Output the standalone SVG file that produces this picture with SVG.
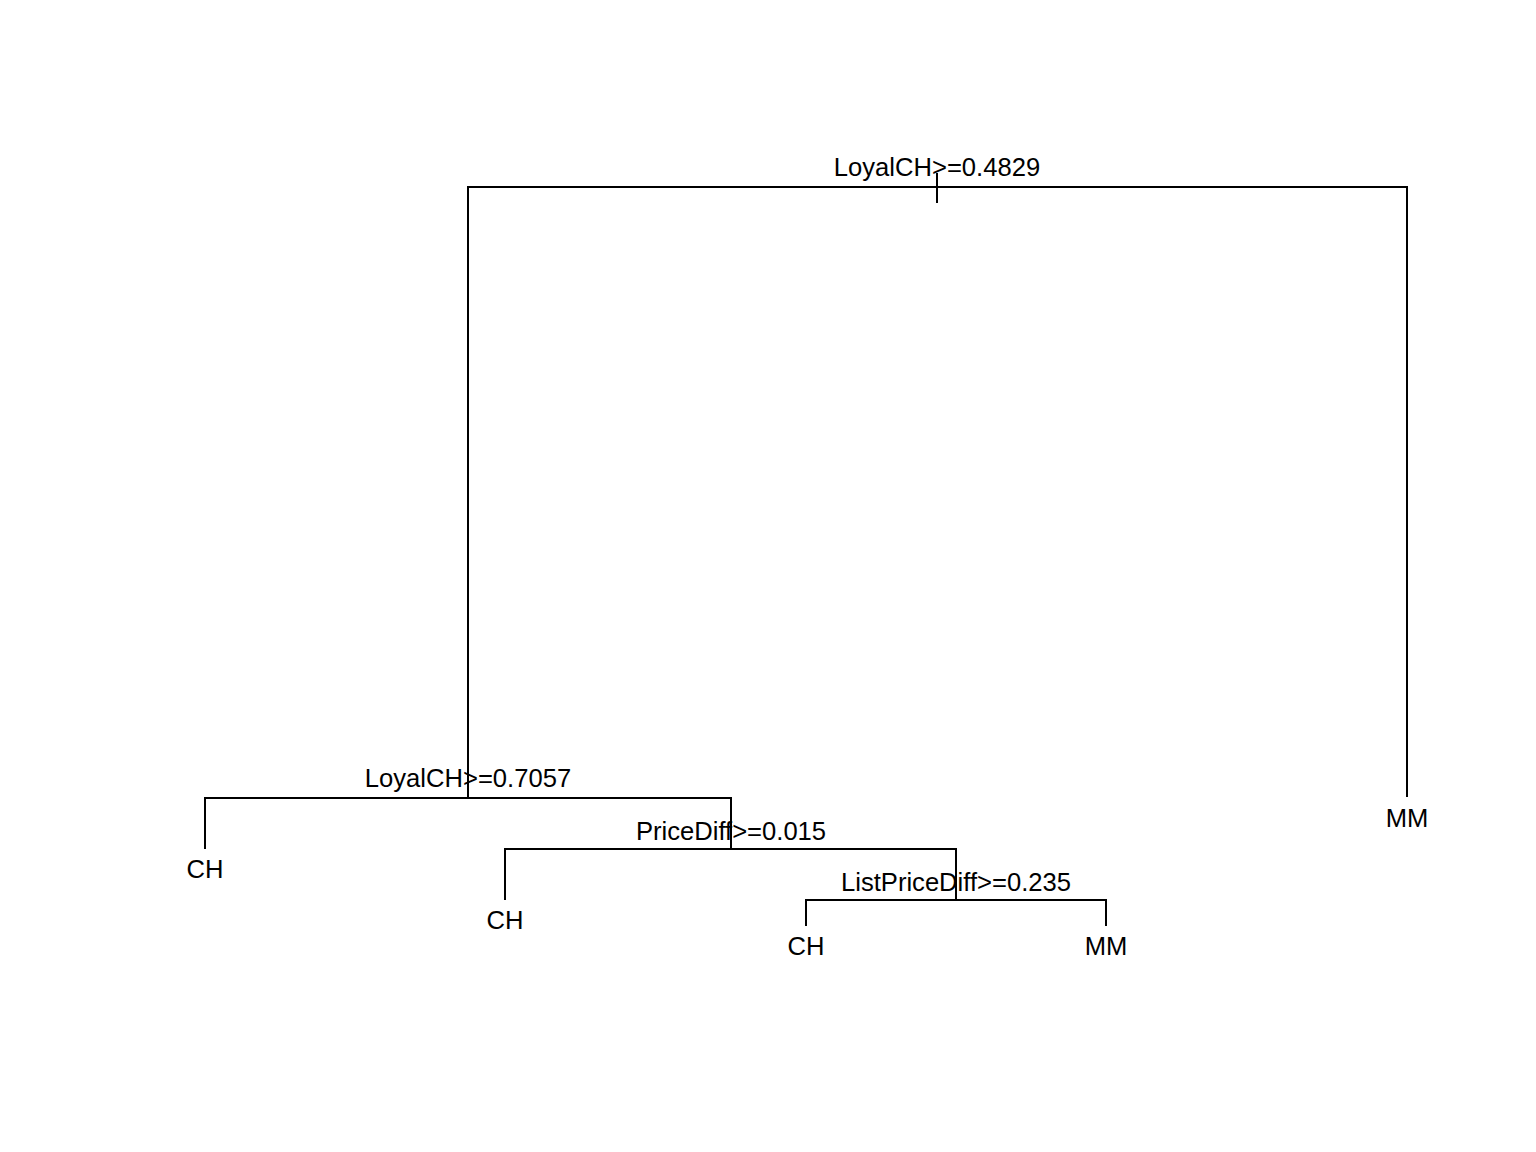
<svg xmlns="http://www.w3.org/2000/svg" width="1536" height="1152" viewBox="0 0 1536 1152">
<style>
.e{stroke:#000;stroke-width:2;fill:none;stroke-linecap:butt}
text{font-family:"Liberation Sans",Arial,sans-serif;font-size:25.6px;fill:#000;text-anchor:middle}
</style>
<rect width="1536" height="1152" fill="#fff"/>
<g id="connectors">
<path class="e" d="M937 173V203"/>
<path class="e" d="M468 797V187H1407V797"/>
<path class="e" d="M205 849V798H731V849"/>
<path class="e" d="M505 900V849H956V900"/>
<path class="e" d="M806 926V900H1106V926"/>
</g>
<g id="n1"><text x="937" y="176">LoyalCH&gt;=0.4829</text></g>
<g id="n2"><text x="468" y="787">LoyalCH&gt;=0.7057</text></g>
<g id="n3"><text x="731" y="840">PriceDiff&gt;=0.015</text></g>
<g id="n4"><text x="956" y="891">ListPriceDiff&gt;=0.235</text></g>
<g id="leaf1"><text x="205" y="878">CH</text></g>
<g id="leaf2"><text x="505" y="929">CH</text></g>
<g id="leaf3"><text x="806" y="955">CH</text></g>
<g id="leaf4"><text x="1106" y="955">MM</text></g>
<g id="leaf5"><text x="1407" y="827">MM</text></g>
</svg>
